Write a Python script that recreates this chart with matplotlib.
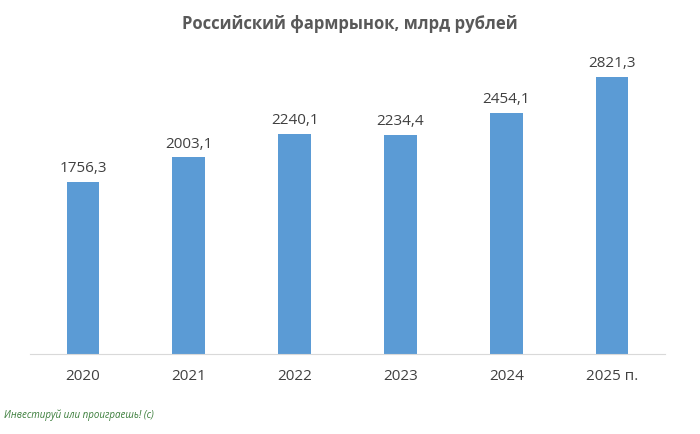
import matplotlib
matplotlib.use("Agg")
import matplotlib.pyplot as plt

categories = ["2020", "2021", "2022", "2023", "2024", "2025 п."]
values = [1756.3, 2003.1, 2240.1, 2234.4, 2454.1, 2821.3]
labels = ["1756,3", "2003,1", "2240,1", "2234,4", "2454,1", "2821,3"]

plt.rcParams['font.family'] = ['Open Sans', 'DejaVu Sans']
fig = plt.figure(figsize=(7, 4.35), dpi=100)
ax = fig.add_axes([0.043, 0.184, 0.907, 0.708])
x = range(len(categories))
bars = ax.bar(x, values, width=0.31, color="#5b9bd5")
for xi, v, l in zip(x, values, labels):
    ax.text(xi, v + 70, l, ha="center", va="bottom", fontsize=11, color="#404040")
ax.set_xlim(-0.5, len(categories) - 0.5)
ax.set_ylim(0, 3140)
ax.set_yticks([])
ax.set_xticks(list(x))
ax.set_xticklabels(categories, fontsize=11, color="#404040")
ax.tick_params(axis="x", length=0, pad=10)
for s in ["top", "right", "left"]:
    ax.spines[s].set_visible(False)
ax.spines["bottom"].set_color("#d9d9d9")
fig.text(0.5, 0.945, "Российский фармрынок, млрд рублей", ha="center", va="center",
         fontsize=12, fontweight="bold", color="#595959")
fig.text(0.005, 0.045, "Инвестируй или проиграешь! (с)", ha="left", va="center",
         fontsize=7, color="#3a7d3a", style="italic")
fig.savefig("out.png", dpi=100)
